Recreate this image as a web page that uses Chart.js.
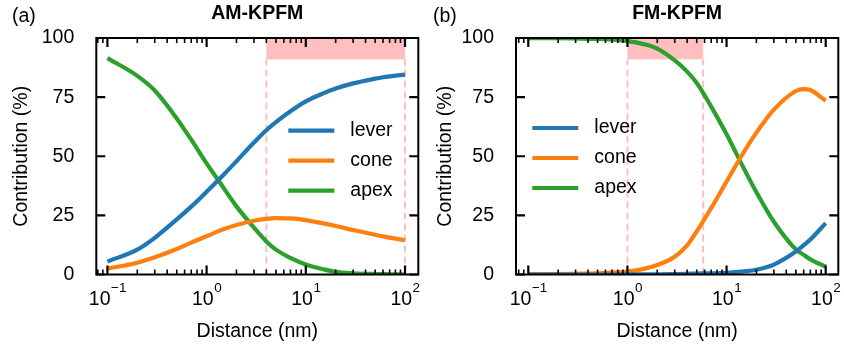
<!DOCTYPE html>
<html lang="en">
<head>
<meta charset="UTF-8">
<title>KPFM contributions</title>
<script src="https://cdn.jsdelivr.net/npm/chart.js"></script>
<style>
  body { margin: 0; background: #fff; }
  canvas { position: absolute; top: 0; }
</style>
</head>
<body>
<canvas id="amChart" width="420" height="350" style="left:0px"></canvas>
<canvas id="fmChart" width="424" height="350" style="left:420px"></canvas>

<script>
// distance (nm) where the curves were sampled
const distance = [0.1, 0.2, 0.3, 0.5, 0.7, 1, 1.5, 2, 3, 4, 5, 7, 10, 15, 20, 30, 50, 60, 70, 100];

// (a) AM-KPFM contributions (%)
const amLever = [5.5, 10.5, 15.5, 23.3, 28.7, 35, 42.4, 47.9, 55.8, 61, 64.4, 69, 73.2, 76.6, 78.6, 80.8, 82.8, 83.4, 83.8, 84.5];
const amCone  = [2.5, 5, 7.3, 10.8, 13.5, 16.2, 19.2, 20.9, 22.7, 23.5, 23.8, 23.7, 23, 21.6, 20.5, 18.8, 16.8, 16.1, 15.6, 14.5];
const amApex  = [91.5, 84, 77.8, 66, 57, 47, 36.3, 28.8, 19.8, 14, 10.5, 7, 4.2, 2.2, 1.1, 0.5, 0.2, 0.15, 0.1, 0];

// (b) FM-KPFM contributions (%)
const fmLever = [0, 0, 0, 0, 0, 0.1, 0.1, 0.1, 0.2, 0.3, 0.4, 0.5, 0.7, 1.3, 2, 4.2, 9.7, 12.4, 14.8, 21.7];
const fmCone  = [0.1, 0.2, 0.3, 0.5, 0.8, 1.2, 2.5, 4, 7.5, 12.3, 18.2, 28.1, 39.3, 51.9, 60, 69.7, 77.6, 78.4, 78, 73.5];
const fmApex  = [99.9, 99.9, 99.8, 99.6, 99.3, 98.7, 97.3, 95.5, 90.5, 85.8, 81, 71, 59.3, 44.7, 34.8, 22.3, 10.6, 8.3, 6.4, 3.3];

// shaded distance windows and the level where the shading starts
const amWindow = [4, 100];
const fmWindow = [1, 5.8];
const shadeFrom = 91;

const yTicks = [0, 25, 50, 75, 100];

const BLUE = '#1f77b4', ORANGE = '#ff7f0e', GREEN = '#2ca02c';
const PINK = '#ffbfbf';
const FONT = '"Liberation Sans", Arial, sans-serif';
const FS = 19.5;

Chart.defaults.font.family = FONT;
Chart.defaults.color = '#000';

// log tick positions 1..9 x 10^k
const logTicks = [];
for (let k = -2; k <= 3; k++) for (let m = 1; m <= 9; m++) logTicks.push(m * Math.pow(10, k));

const decor = {
    id: 'decor',
    beforeDatasetsDraw(chart, args, o) {
        const {ctx, chartArea: a, scales: {x, y}} = chart;
        const x0 = x.getPixelForValue(o.window[0]), x1 = x.getPixelForValue(o.window[1]);
        const yb = y.getPixelForValue(shadeFrom), yt = y.getPixelForValue(100);
        ctx.save();
        ctx.fillStyle = PINK;
        ctx.fillRect(x0, yt, x1 - x0, yb - yt);
        ctx.strokeStyle = PINK;
        ctx.lineWidth = 2;
        ctx.setLineDash([7, 4]);
        [x0, x1].forEach(px => {
            ctx.beginPath();
            ctx.moveTo(px, a.bottom);
            ctx.lineTo(px, yb);
            ctx.stroke();
        });
        ctx.restore();
    },
    afterDatasetsDraw(chart, args, o) {
        const {ctx, chartArea: a, scales: {x, y}} = chart;
        ctx.save();
        ctx.strokeStyle = '#000';
        ctx.fillStyle = '#000';

        // ticks pointing inwards, all four sides
        logTicks.forEach(v => {
            if (v < x.min || v > x.max) return;
            const major = Math.abs(Math.log10(v) - Math.round(Math.log10(v))) < 1e-9;
            const len = major ? 9 : 5;
            const px = x.getPixelForValue(v);
            ctx.lineWidth = major ? 2.2 : 1.6;
            ctx.beginPath();
            ctx.moveTo(px, a.bottom); ctx.lineTo(px, a.bottom - len);
            ctx.moveTo(px, a.top); ctx.lineTo(px, a.top + len);
            ctx.stroke();
        });
        ctx.lineWidth = 2.2;
        yTicks.forEach(v => {
            const py = y.getPixelForValue(v);
            ctx.beginPath();
            ctx.moveTo(a.left, py); ctx.lineTo(a.left + 9, py);
            ctx.moveTo(a.right, py); ctx.lineTo(a.right - 9, py);
            ctx.stroke();
        });

        // axes frame
        ctx.lineWidth = 2;
        ctx.strokeRect(a.left, a.top, a.right - a.left, a.bottom - a.top);

        // 10^n tick labels
        ctx.textBaseline = 'alphabetic';
        ctx.textAlign = 'left';
        logTicks.forEach(v => {
            if (v < x.min || v > x.max) return;
            const e = Math.log10(v);
            if (Math.abs(e - Math.round(e)) > 1e-9) return;
            const n = Math.round(e);
            const sup = n < 0 ? '\u2212' + (-n) : String(n);
            ctx.font = FS + 'px ' + FONT;
            const wb = ctx.measureText('10').width;
            ctx.font = '13.5px ' + FONT;
            const ws = ctx.measureText(sup).width;
            const left = x.getPixelForValue(v) - (wb + ws) / 2;
            ctx.font = FS + 'px ' + FONT;
            ctx.fillText('10', left, a.bottom + 30);
            ctx.font = '13.5px ' + FONT;
            ctx.fillText(sup, left + wb + 0.5, a.bottom + 17.3);
        });

        // legend
        ctx.font = FS + 'px ' + FONT;
        ctx.textBaseline = 'middle';
        chart.data.datasets.forEach((d, i) => {
            const yy = o.legendY + i * 30;
            ctx.strokeStyle = d.borderColor;
            ctx.lineWidth = 4.2;
            ctx.beginPath();
            ctx.moveTo(o.legendX, yy);
            ctx.lineTo(o.legendX + 46, yy);
            ctx.stroke();
            ctx.fillText(d.label, o.legendX + 62, yy);
        });

        // panel letter
        ctx.textBaseline = 'alphabetic';
        ctx.fillText(o.letter, o.letterX, 21.5);
        ctx.restore();
    }
};

function makePanel(id, title, lever, cone, apex, p) {
    const mk = (label, vals, color) => ({
        label: label,
        data: distance.map((d, i) => ({x: d, y: vals[i]})),
        borderColor: color,
        backgroundColor: color,
        borderWidth: 4.2,
        pointRadius: 0,
        cubicInterpolationMode: 'monotone',
        fill: false
    });

    return new Chart(document.getElementById(id), {
        type: 'line',
        data: {
            datasets: [mk('lever', lever, BLUE), mk('cone', cone, ORANGE), mk('apex', apex, GREEN)]
        },
        options: {
            responsive: false,
            animation: false,
            devicePixelRatio: 1,
            layout: { padding: { left: 0, right: p.padRight, top: 0, bottom: 0 } },
            scales: {
                x: {
                    type: 'logarithmic',
                    min: Math.pow(10, p.xmin),
                    max: Math.pow(10, p.xmax),
                    grid: { display: false },
                    border: { display: false },
                    ticks: { display: false, autoSkip: false },
                    title: { display: true, text: 'Distance (nm)', font: { size: FS }, padding: { top: 0, bottom: 6.3 } },
                    afterFit: s => { s.height = 75.5; }
                },
                y: {
                    min: 0,
                    max: 100,
                    grid: { display: false },
                    border: { display: false },
                    ticks: { stepSize: 25, padding: 14, font: { size: FS } },
                    title: { display: true, text: 'Contribution (%)', font: { size: FS }, padding: { top: p.yTitlePad, bottom: 0 } },
                    afterFit: s => { s.width = p.yWidth; }
                }
            },
            plugins: {
                legend: { display: false },
                tooltip: { enabled: false },
                title: {
                    display: true,
                    text: title,
                    fullSize: false,
                    color: '#000',
                    font: { size: FS, weight: 'bold' },
                    padding: { top: 1.7, bottom: 12.9 }
                },
                decor: p
            }
        },
        plugins: [decor]
    });
}

makePanel('amChart', 'AM-KPFM', amLever, amCone, amApex, {
    xmin: -1.112, xmax: 2.134, padRight: 1.7, yWidth: 96.3, yTitlePad: 10,
    legendX: 288.3, legendY: 130.7, letter: '(a)', letterX: 12, window: amWindow
});

makePanel('fmChart', 'FM-KPFM', fmLever, fmCone, fmApex, {
    xmin: -1.124, xmax: 2.127, padRight: 5.7, yWidth: 96, yTitlePad: 14.1,
    legendX: 112.3, legendY: 128, letter: '(b)', letterX: 13, window: fmWindow
});
</script>
</body>
</html>
